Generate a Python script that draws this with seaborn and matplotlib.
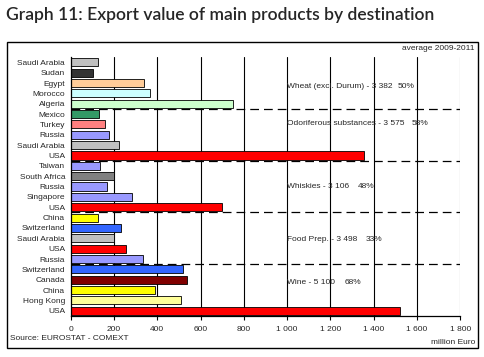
import matplotlib.pyplot as plt
import matplotlib.patches as mpatches
import pandas as pd
import seaborn as sns

# destinations, top to bottom
countries = ["Saudi Arabia", "Sudan", "Egypt", "Morocco", "Algeria",
             "Mexico", "Turkey", "Russia", "Saudi Arabia", "USA",
             "Taiwan", "South Africa", "Russia", "Singapore", "USA",
             "China", "Switzerland", "Saudi Arabia", "USA", "Russia",
             "Switzerland", "Canada", "China", "Hong Kong", "USA"]
values = [128, 101, 338, 367, 752,
          131, 159, 179, 223, 1355,
          137, 201, 166, 282, 698,
          125, 234, 200, 254, 333,
          520, 536, 388, 508, 1523]
bar_colors = ["#C0C0C0", "#333333", "#FFCC99", "#CCFFFF", "#CCFFCC",
              "#339966", "#FF8080", "#9999FF", "#C0C0C0", "#FF0000",
              "#9999FF", "#808080", "#9999FF", "#9999FF", "#FF0000",
              "#FFFF00", "#3366FF", "#C0C0C0", "#FF0000", "#9999FF",
              "#3366FF", "#800000", "#FFFF00", "#FFFF99", "#FF0000"]
products = ["Wheat (excl. Durum) - 3 382", "Odoriferous substances - 3 575",
            "Whiskies - 3 106", "Food Prep. - 3 498", "Wine - 5 100"]
shares = ["50%", "58%", "48%", "33%", "68%"]
x_ticks = [0, 200, 400, 600, 800, 1000, 1200, 1400, 1600, 1800]

df = pd.DataFrame({"row": [str(i) for i in range(len(countries))],
                   "country": countries, "value": values})

sns.set_style("white")
plt.rcParams["font.family"] = ["Liberation Sans", "DejaVu Sans"]

fig = plt.figure(figsize=(4.84, 3.57), dpi=100)
ax = fig.add_axes([0.146, 0.115, 0.805, 0.725])

# vertical grid behind bars
for t in x_ticks[1:]:
    ax.axvline(t, color="#808080" if t == 1800 else "black", lw=0.8, zorder=0)
for yy in [4.5, 9.5, 14.5, 19.5]:
    ax.axhline(yy, color="black", lw=0.9, ls=(0, (7, 4)), zorder=0.5)

sns.barplot(data=df, x="value", y="row", hue="row", palette=bar_colors,
            orient="h", width=0.78, edgecolor="black", linewidth=0.6,
            saturation=1, legend=False, ax=ax, zorder=2)

ax.set_xlim(0, 1800)
ax.set_ylim(24.5, -0.5)
ax.set_xticks(x_ticks)
ax.set_xticklabels([f"{t:,}".replace(",", " ") for t in x_ticks], fontsize=6)
ax.set_yticks(range(len(countries)))
ax.set_yticklabels(countries, fontsize=6)
ax.tick_params(axis="x", length=3, width=0.8, color="black", pad=4, direction="out", bottom=True)
ax.tick_params(axis="y", length=0, pad=4)
ax.set_xlabel("")
ax.set_ylabel("")
for s in ["top", "right"]:
    ax.spines[s].set_visible(False)
for s in ["left", "bottom"]:
    ax.spines[s].set_color("black")
    ax.spines[s].set_linewidth(0.9)

label_y = [2.3, 5.9, 12.0, 17.1, 21.3]
share_x = [1512, 1575, 1326, 1363, 1267]
for name, share, yy, sx in zip(products, shares, label_y, share_x):
    ax.text(1000, yy, name, fontsize=6, va="center", ha="left", zorder=3)
    ax.text(sx, yy, share, fontsize=6, va="center", ha="left", zorder=3)

# outer frame and annotations
fig.patches.append(mpatches.Rectangle((7 / 484, 1 - 348 / 357), 471 / 484, 306 / 357,
                                      transform=fig.transFigure, fill=False,
                                      edgecolor="black", lw=1))
fig.text(6 / 484, 1 - 15 / 357, "Graph 11: Export value of main products by destination",
         fontsize=12.6, fontfamily="Lato", fontweight="semibold", va="center", ha="left")
fig.text(475 / 484, 1 - 48 / 357, "average 2009-2011", fontsize=6, ha="right", va="center")
fig.text(10 / 484, 1 - 339 / 357, "Source: EUROSTAT - COMEXT", fontsize=6, ha="left", va="center")
fig.text(475 / 484, 1 - 343 / 357, "million Euro", fontsize=6, ha="right", va="center")

fig.savefig("out.png", dpi=100)
